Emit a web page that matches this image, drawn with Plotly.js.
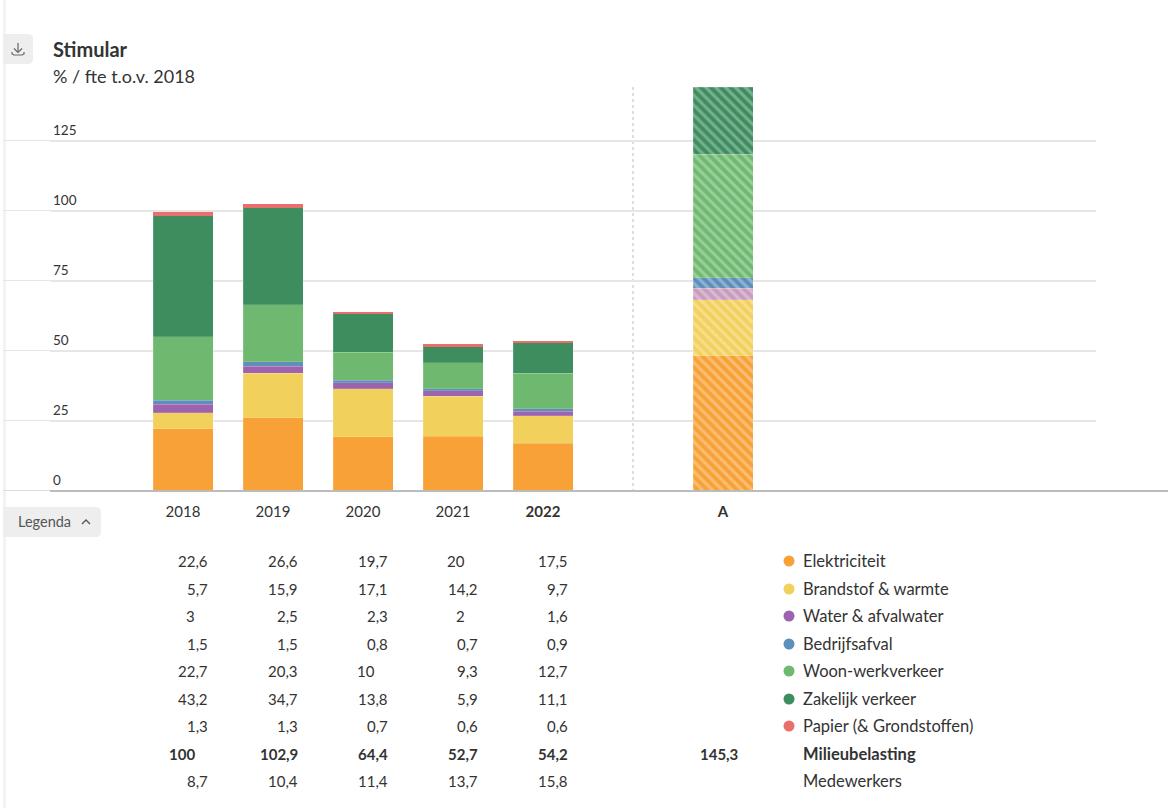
<!DOCTYPE html>
<html><head><meta charset="utf-8">
<script src="https://cdn.plot.ly/plotly-3.0.1.min.js"></script>
<style>html,body{margin:0;padding:0;background:#fff}#chart{width:1168px;height:808px}</style>
</head><body><div id="chart"></div>
<script>
// ---- data ----
const years = ['2018','2019','2020','2021','2022'];
const spacer = ' ';
const target = 'A';
const seriesNames = ['Elektriciteit','Brandstof & warmte','Water & afvalwater','Bedrijfsafval','Woon-werkverkeer','Zakelijk verkeer','Papier (& Grondstoffen)'];
const elektriciteit = [22.6,26.6,19.7,20,17.5];
const brandstof = [5.7,15.9,17.1,14.2,9.7];
const water = [3,2.5,2.3,2,1.6];
const afval = [1.5,1.5,0.8,0.7,0.9];
const woonwerk = [22.7,20.3,10,9.3,12.7];
const zakelijk = [43.2,34.7,13.8,5.9,11.1];
const papier = [1.3,1.3,0.7,0.6,0.6];
const milieubelasting = [100,102.9,64.4,52.7,54.2];
const medewerkers = [8.7,10.4,11.4,13.7,15.8];
const targetValues = [48.6,20,4.2,3.8,44,24,0];
const targetTotal = 145.3;
const yTicks = [0,25,50,75,100,125];
const colors = ['#f8a136','#f2d05c','#9e63ae','#5e8fbc','#6eb96f','#3d8d5f','#e96f6c'];
const targetColors = ['#f8a136','#f2d05c','#c99bbd','#5e8fbc','#6eb96f','#3d8d5f','#e96f6c'];
const allSeries = [elektriciteit,brandstof,water,afval,woonwerk,zakelijk,papier];

// ---- page geometry helpers ----
const W=1168,H=808, L=50,R=1096,T=85,B=492;
const FONT='Lato, sans-serif', TXT='#333333';
const px=x=>(x-L)/(R-L), py=y=>(B-y)/(B-T);
const unit=90, x0=183;
const cats=[...years,spacer,target];
const catIndex=c=>cats.indexOf(c);
const rowY=[561,589,616,644,671,699,726,754,781];

const fmt=v=>String(v).replace('.',',');
const traces=seriesNames.map((n,i)=>({
  type:'bar',name:n,x:[...years,target],y:[...allSeries[i],targetValues[i]],
  hoverinfo:'x+y+name',
  marker:{color:colors[i],line:{color:'rgba(255,255,255,.5)',width:i===6?0:.3},
    pattern:{shape:['','','','','','\\'],
      bgcolor:[...years.map(()=>colors[i]),targetColors[i]],
      fgcolor:'#ffffff',fgopacity:.3,size:7,solidity:.45,fillmode:'replace'}}
}));

const ann=[];
function numberCell(cat,v,y,bold,extra){
  const s=fmt(v), hasDec=s.includes(',');
  ann.push({xref:'x',yref:'paper',x:catIndex(cat),y:py(y),text:bold?`<b>${s}</b>`:s,showarrow:false,
    xanchor:'right',yanchor:'middle',xshift:(hasDec?27:14)+(extra||0),align:'right',
    font:{family:FONT,size:15,color:TXT}});
}
[...allSeries,milieubelasting,medewerkers].forEach((arr,r)=>arr.forEach((v,c)=>numberCell(years[c],v,rowY[r],r===7)));
numberCell(target,targetTotal,rowY[7],true,-10);
[...seriesNames,'<b>Milieubelasting</b>','Medewerkers'].forEach((t,r)=>ann.push({
  xref:'paper',yref:'paper',x:px(801),y:py(rowY[r]),text:t,showarrow:false,xanchor:'left',yanchor:'middle',
  font:{family:FONT,size:16.5,color:TXT}}));
ann.push({xref:'paper',yref:'paper',x:px(16),y:py(521),text:'Legenda',showarrow:false,xanchor:'left',yanchor:'middle',
  font:{family:FONT,size:14.5,color:'#555'}});

function rrect(x1,y1,x2,y2){ // left edge square, right edge rounded
  const r=5,a=px(x1),b=px(x2),t=py(y1),u=py(y2),rx=r/(R-L),ry=r/(B-T);
  return `M${a},${t} L${b-rx},${t} Q${b},${t} ${b},${t-ry} L${b},${u+ry} Q${b},${u} ${b-rx},${u} L${a},${u} Z`;
}
const pathOf=pts=>pts.map((p,i)=>(i?'L':'M')+px(p[0])+','+py(p[1])).join(' ');
const band=(v,x1,x2,lo,hi,color,layer)=>({type:'rect',xref:'paper',yref:'y',ysizemode:'pixel',yanchor:v,y0:lo,y1:hi,
  x0:px(x1),x1:px(x2),fillcolor:color,line:{width:0},layer});
const shapes=[
  {type:'rect',xref:'paper',yref:'paper',x0:px(3),x1:px(6),y0:py(0),y1:py(808),line:{width:0},fillcolor:'#f3f3f3',layer:'below'},
  {type:'path',xref:'paper',yref:'paper',path:rrect(3,34,33,64),fillcolor:'#eeeeee',line:{width:0}},
  {type:'path',xref:'paper',yref:'paper',path:rrect(3,507,101,537),fillcolor:'#eeeeee',line:{width:0}},
  {type:'path',xref:'paper',yref:'paper',path:pathOf([[18,43],[18,52]]),line:{color:'#666',width:1.2}},
  {type:'path',xref:'paper',yref:'paper',path:pathOf([[14,48.5],[18,52.5],[22,48.5]]),line:{color:'#666',width:1.2}},
  {type:'path',xref:'paper',yref:'paper',path:pathOf([[12,52],[12,54],[14,55],[22,55],[24,54],[24,52]]),line:{color:'#666',width:1.2}},
  {type:'path',xref:'paper',yref:'paper',path:pathOf([[82,524],[86,520],[90,524]]),line:{color:'#555',width:1.3}},
  {type:'line',xref:'x',yref:'paper',x0:catIndex(spacer),x1:catIndex(spacer),y0:0,y1:py(87),line:{color:'#d4d4d4',width:1.5,dash:'dot'},layer:'below'},
  band(0,L,W,0,2,'#bcbcbc','above'),
  band(0,3,L,1,2,'#dcdcdc','above'),
];
yTicks.slice(1).forEach(v=>{
  shapes.push(band(v,L,R,0,2,'#e6e6e6','below'));
  shapes.push(band(v,3,L,1,2,'#e6e6e6','below'));
});
colors.forEach((c,r)=>shapes.push({type:'circle',xref:'paper',yref:'paper',xsizemode:'pixel',ysizemode:'pixel',
  xanchor:px(789),yanchor:py(rowY[r]),x0:-5.5,x1:5.5,y0:-5.5,y1:5.5,fillcolor:c,line:{width:0}}));

const layout={
  width:W,height:H,margin:{l:L,r:W-R,t:T,b:H-B,pad:0},paper_bgcolor:'#fff',plot_bgcolor:'#fff',
  barmode:'stack',bargap:1/3,showlegend:false,
  font:{family:FONT,size:15,color:TXT},
  title:{text:'<b>Stimular</b><br><span style="font-size:18px">% / fte t.o.v. 2018</span>',x:53/W,xanchor:'left',xref:'container',y:1-57/H,yanchor:'top',
    font:{family:FONT,size:20,color:TXT}},
  xaxis:{type:'category',categoryorder:'array',categoryarray:cats,
    range:[(L-x0)/unit,(R-x0)/unit],fixedrange:true,showgrid:false,zeroline:false,showline:false,
    tickmode:'array',tickvals:[...years,target].map(catIndex),ticktext:years.map((y,i)=>i===4?`<b>${y}</b>`:y).concat(`<b>${target}</b>`),
    ticks:'',ticklen:0,ticklabelstandoff:9,tickfont:{family:FONT,size:15,color:TXT},tickangle:0},
  yaxis:{range:[0,(B-T)/2.8],fixedrange:true,tickmode:'array',tickvals:yTicks,ticktext:yTicks.map(String),
    showgrid:false,zeroline:false,showline:false,
    ticks:'',ticklabelposition:'inside',ticklabelshift:-12,tickfont:{family:FONT,size:13.5,color:TXT}},
  annotations:ann,shapes:shapes
};
Plotly.newPlot('chart',traces,layout,{displayModeBar:false});
</script></body></html>
